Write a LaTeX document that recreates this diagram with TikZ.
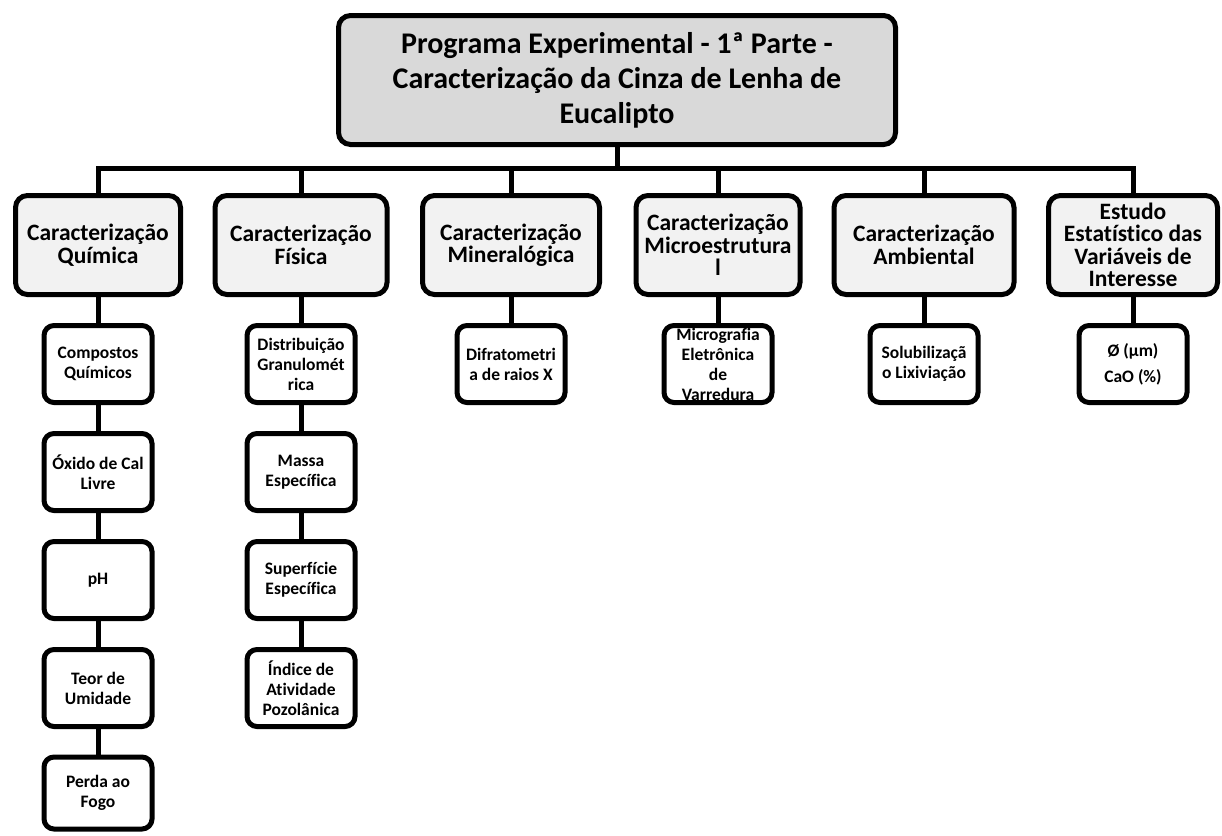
\documentclass[tikz,border=0pt]{standalone}
\usepackage{fontspec}
\setmainfont{Carlito}[Ligatures=CommonOff]
\definecolor{topgray}{HTML}{D9D9D9}
\definecolor{midgray}{HTML}{F2F2F2}
\begin{document}
\begin{tikzpicture}[x=1pt,y=-1pt,
  box/.style={draw=black, line width=5pt, rounded corners=12pt, align=center, inner sep=0pt, font=\bfseries},
  topbox/.style={box, fill=topgray, minimum width=557pt, minimum height=129pt, font=\fontsize{30}{35}\selectfont\bfseries},
  catbox/.style={box, fill=midgray, minimum height=99pt, font=\fontsize{23.5}{22.5}\selectfont\bfseries},
  subbox/.style={box, fill=white, rounded corners=10pt, minimum width=108pt, minimum height=77pt, font=\fontsize{17.5}{20}\selectfont\bfseries},
  link/.style={line width=5pt, line join=miter}
]
\useasboundingbox (0,0) rectangle (1222,835);
\fill[white] (0,0) rectangle (1222,835);

\coordinate (bar) at (0,168);

\node[topbox] (top) at (617,80) {Programa Experimental - 1ª Parte -\\Caracterização da Cinza de Lenha de\\Eucalipto};

\node[catbox, minimum width=165pt] (Q)  at (98,245)  {Caracterização\\Química};
\node[catbox, minimum width=172pt] (F)  at (301,245) {Caracterização\\Física};
\node[catbox, minimum width=177pt] (M)  at (511,245) {Caracterização\\Mineralógica};
\node[catbox, minimum width=164pt] (Mi) at (718,245) {Caracterização\\Microestrutura\\l};
\node[catbox, minimum width=180pt] (A)  at (924,245) {Caracterização\\Ambiental};
\node[catbox, minimum width=169pt] (E)  at (1133,245) {Estudo\\Estatístico das\\Variáveis de\\Interesse};

\node[subbox] (Q1) at (98,364) {Compostos\\Químicos};
\node[subbox] (Q2) at (98,472) {Óxido de Cal\\Livre};
\node[subbox] (Q3) at (98,580) {pH};
\node[subbox] (Q4) at (98,688) {Teor de\\Umidade};
\node[subbox, minimum height=72pt] (Q5) at (98,793) {Perda ao\\Fogo};

\node[subbox] (F1) at (301,364) {Distribuição\\Granulomét\\rica};
\node[subbox] (F2) at (301,472) {Massa\\Específica};
\node[subbox] (F3) at (301,580) {Superfície\\Específica};
\node[subbox] (F4) at (301,688) {Índice de\\Atividade\\Pozolânica};

\node[subbox] (M1) at (511,364) {Difratometri\\a de raios X};
\node[subbox] (Mi1) at (718,364) {Micrografia\\Eletrônica\\de\\Varredura};
\node[subbox] (A1) at (924,364) {Solubilizaçã\\o Lixiviação};
\node[subbox, font=\fontsize{17.5}{26}\selectfont\bfseries] (E1) at (1133,364) {Ø (µm)\\CaO (\%)};

\draw[link] (top.south) -- (top.south |- bar);
\draw[link] (Q.north) |- (E.north |- bar) -- (E.north);
\foreach \n in {F,M,Mi,A} \draw[link] (\n.north) -- (\n.north |- bar);

\draw[link] (Q.south) -- (Q1.north);
\draw[link] (Q1.south) -- (Q2.north);
\draw[link] (Q2.south) -- (Q3.north);
\draw[link] (Q3.south) -- (Q4.north);
\draw[link] (Q4.south) -- (Q5.north);
\draw[link] (F.south) -- (F1.north);
\draw[link] (F1.south) -- (F2.north);
\draw[link] (F2.south) -- (F3.north);
\draw[link] (F3.south) -- (F4.north);
\draw[link] (M.south) -- (M1.north);
\draw[link] (Mi.south) -- (Mi1.north);
\draw[link] (A.south) -- (A1.north);
\draw[link] (E.south) -- (E1.north);
\end{tikzpicture}
\end{document}
